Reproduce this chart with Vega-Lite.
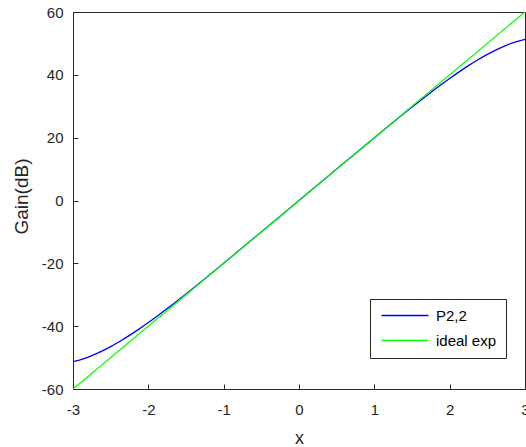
{
  "$schema": "https://vega.github.io/schema/vega-lite/v6.json",
  "autosize": {"type": "none"},
  "width": 452,
  "height": 377,
  "padding": {"left": 73, "top": 12, "right": 1, "bottom": 58},
  "background": "white",
  "view": {"stroke": "#262626", "strokeWidth": 1},
  "config": {
    "font": "Liberation Sans",
    "axis": {
      "grid": false,
      "domainColor": "#262626",
      "tickColor": "#262626",
      "tickSize": -5,
      "labelColor": "#262626",
      "labelFontSize": 15,
      "labelFont": "Liberation Sans",
      "titleFont": "Liberation Sans",
      "titleFontWeight": "normal",
      "titleColor": "#262626"
    }
  },
  "data": {
    "values": [
      {"x": -3, "y": -51.3, "s": "P2,2"},
      {"x": -2.875, "y": -50.47, "s": "P2,2"},
      {"x": -2.75, "y": -49.37, "s": "P2,2"},
      {"x": -2.625, "y": -48.04, "s": "P2,2"},
      {"x": -2.5, "y": -46.5, "s": "P2,2"},
      {"x": -2.375, "y": -44.79, "s": "P2,2"},
      {"x": -2.25, "y": -42.94, "s": "P2,2"},
      {"x": -2.125, "y": -40.95, "s": "P2,2"},
      {"x": -2.0, "y": -38.85, "s": "P2,2"},
      {"x": -1.875, "y": -36.67, "s": "P2,2"},
      {"x": -1.75, "y": -34.41, "s": "P2,2"},
      {"x": -1.5, "y": -29.73, "s": "P2,2"},
      {"x": -1.25, "y": -24.89, "s": "P2,2"},
      {"x": -1.0, "y": -19.96, "s": "P2,2"},
      {"x": -0.75, "y": -14.99, "s": "P2,2"},
      {"x": -0.5, "y": -10.0, "s": "P2,2"},
      {"x": -0.25, "y": -5.0, "s": "P2,2"},
      {"x": 0, "y": 0, "s": "P2,2"},
      {"x": 0.25, "y": 5.0, "s": "P2,2"},
      {"x": 0.5, "y": 10.0, "s": "P2,2"},
      {"x": 0.75, "y": 14.99, "s": "P2,2"},
      {"x": 1.0, "y": 19.96, "s": "P2,2"},
      {"x": 1.25, "y": 24.89, "s": "P2,2"},
      {"x": 1.5, "y": 29.73, "s": "P2,2"},
      {"x": 1.75, "y": 34.41, "s": "P2,2"},
      {"x": 1.875, "y": 36.67, "s": "P2,2"},
      {"x": 2.0, "y": 38.85, "s": "P2,2"},
      {"x": 2.125, "y": 40.95, "s": "P2,2"},
      {"x": 2.25, "y": 42.94, "s": "P2,2"},
      {"x": 2.375, "y": 44.79, "s": "P2,2"},
      {"x": 2.5, "y": 46.5, "s": "P2,2"},
      {"x": 2.625, "y": 48.04, "s": "P2,2"},
      {"x": 2.75, "y": 49.37, "s": "P2,2"},
      {"x": 2.875, "y": 50.47, "s": "P2,2"},
      {"x": 3, "y": 51.3, "s": "P2,2"},
      {"x": -3, "y": -60, "s": "ideal exp"},
      {"x": 3, "y": 60, "s": "ideal exp"}
    ]
  },
  "mark": {"type": "line", "strokeWidth": 1.3, "interpolate": "monotone", "clip": true},
  "encoding": {
    "x": {
      "field": "x", "type": "quantitative",
      "scale": {"domain": [-3, 3], "nice": false, "zero": false},
      "axis": {"values": [-3, -2, -1, 0, 1, 2, 3], "labelExpr": "'' + datum.value", "labelPadding": 18, "labelFlush": false, "labelOverlap": false,
               "title": "x", "titleFontSize": 18, "titleY": 54.5, "titleBaseline": "alphabetic"}
    },
    "y": {
      "field": "y", "type": "quantitative",
      "scale": {"domain": [-60, 60], "nice": false},
      "axis": {"values": [-60, -40, -20, 0, 20, 40, 60], "labelExpr": "'' + datum.value", "labelPadding": 15, "labelFlush": false, "labelOverlap": false,
               "title": "Gain(dB)", "titleFontSize": 19, "titleX": -42, "titleY": 184, "titleBaseline": "bottom", "titleAngle": -90, "titleAlign": "center"}
    },
    "color": {
      "field": "s", "type": "nominal",
      "scale": {"domain": ["P2,2", "ideal exp"], "range": ["#0000ff", "#00ff00"]},
      "legend": {
        "title": null,
        "orient": "none",
        "legendX": 297,
        "legendY": 287,
        "symbolType": "M-1,0H8.4",
        "symbolSize": 100,
        "symbolStrokeWidth": 1.3,
        "symbolFillColor": "transparent",
        "labelOffset": 42,
        "labelFontSize": 15,
        "labelColor": "#000000",
        "labelExpr": "datum.label + '\u00a0\u00a0\u00a0\u00a0'",
        "padding": 9,
        "rowPadding": 9,
        "strokeColor": "#262626",
        "fillColor": "white",
        "cornerRadius": 0
      }
    },
    "order": {"field": "x", "type": "quantitative"}
  }
}
